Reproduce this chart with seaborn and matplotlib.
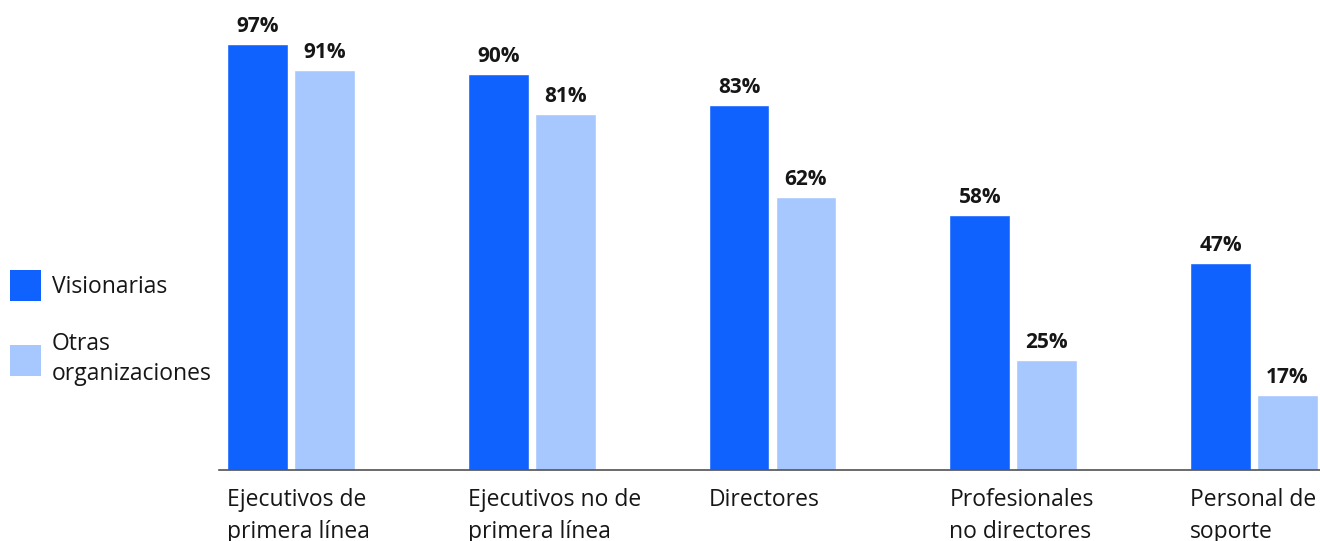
import matplotlib
matplotlib.use("Agg")
import matplotlib.pyplot as plt
import matplotlib.transforms as mtransforms
from matplotlib.patches import Patch
import seaborn as sns
import pandas as pd

categories = ["Ejecutivos de\nprimera línea", "Ejecutivos no de\nprimera línea", "Directores",
              "Profesionales\nno directores", "Personal de\nsoporte"]
series = ["Visionarias", "Otras organizaciones"]
visionarias = [97, 90, 83, 58, 47]
otras = [91, 81, 62, 25, 17]
legend_labels = ["Visionarias", "Otras\norganizaciones"]
colors = ["#0f62fe", "#a6c8ff"]

df = pd.DataFrame({
    "categoria": categories * 2,
    "serie": [series[0]] * 5 + [series[1]] * 5,
    "valor": visionarias + otras,
})

sns.set_theme(style="white")
plt.rcParams["font.family"] = ["Open Sans", "DejaVu Sans"]
text_color = "#161616"

fig = plt.figure(figsize=(13.2, 5.41), dpi=100)
W, H = 1320, 541
ax = fig.add_axes([219 / W, (H - 470) / H, 1101 / W, 470 / H])

sns.barplot(data=df, x="categoria", y="valor", hue="serie", order=categories,
            hue_order=series, palette=colors, width=0.556, gap=0.09,
            saturation=1, legend=False, ax=ax)

ax.set_xlim(-0.299, 4.274)
ax.set_ylim(0, 106.9)
ax.set_xlabel("")
ax.set_ylabel("")
ax.set_yticks([])
for s in ["top", "right", "left"]:
    ax.spines[s].set_visible(False)
ax.spines["bottom"].set_color("#525252")
ax.spines["bottom"].set_linewidth(1.2)

for cont in ax.containers:
    ax.bar_label(cont, fmt="%d%%", padding=5, fontsize=15, fontweight="bold",
                 color=text_color)

ax.tick_params(axis="x", length=0, pad=13)
offset = mtransforms.ScaledTranslation(-64 / 100, 0, fig.dpi_scale_trans)
for lbl in ax.get_xticklabels():
    lbl.set_horizontalalignment("left")
    lbl.set_fontsize(16.5)
    lbl.set_color(text_color)
    lbl.set_linespacing(1.45)
    lbl.set_transform(lbl.get_transform() + offset)

handles = [Patch(facecolor=c, edgecolor="none") for c in colors]
leg = fig.legend(handles, legend_labels, loc="center left",
                 bbox_to_anchor=(-6 / W, 1 - 328 / H), frameon=False,
                 fontsize=16.5, handlelength=1.36, handleheight=1.72,
                 handletextpad=0.45, labelspacing=1.35, borderpad=0.2)
for t in leg.get_texts():
    t.set_color(text_color)
    t.set_linespacing(1.35)

fig.savefig("out.png", dpi=100)
